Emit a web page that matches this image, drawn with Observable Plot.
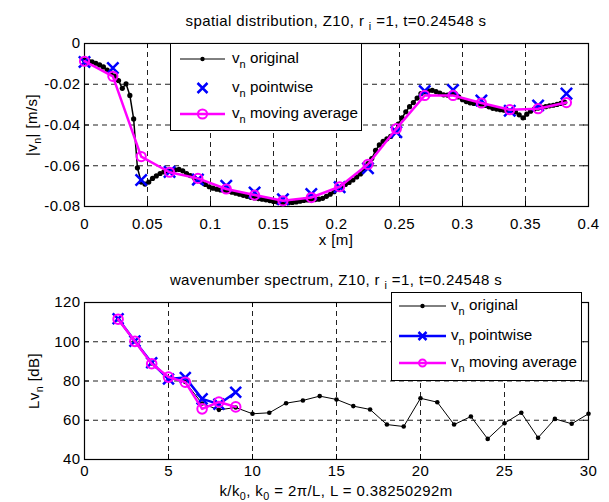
<!DOCTYPE html>
<html><head><meta charset="utf-8">
<script src="https://cdn.jsdelivr.net/npm/d3@7"></script>
<script src="https://cdn.jsdelivr.net/npm/@observablehq/plot@0.6"></script>
<style>
body{margin:0;background:#fff;}
#wrap{position:relative;width:609px;height:502px;font-family:"Liberation Sans",Arial,sans-serif;color:#000;overflow:hidden;background:#fff;}
.abs{position:absolute;white-space:nowrap;line-height:1;font-size:15px;letter-spacing:0.4px;}
.sub{font-size:0.72em;position:relative;top:0.4em;}
.plot{position:absolute;left:0;}
</style></head><body><div id="wrap"></div>
<script>
// ---------- top panel: spatial distribution ----------
const topXTicks = [0, 0.05, 0.1, 0.15, 0.2, 0.25, 0.3, 0.35, 0.4];
const topXTickLabels = ["0", "0.05", "0.1", "0.15", "0.2", "0.25", "0.3", "0.35", "0.4"];
const topYTicks = [-0.08, -0.06, -0.04, -0.02, 0];
const topYTickLabels = ["-0.08", "-0.06", "-0.04", "-0.02", "0"];

// original signal, sampled every 0.003 m
const origStep = 0.003;
const origV = [
 -0.0082,-0.0085,-0.0090,-0.0097,-0.0105,-0.0115,-0.0130,-0.0144,-0.0160,-0.0182,
 -0.0220,-0.0198,-0.0255,-0.0370,-0.0610,-0.0680,-0.0690,-0.0680,-0.0662,-0.0650,
 -0.0638,-0.0630,-0.0626,-0.0624,-0.0620,-0.0618,-0.0625,-0.0638,-0.0648,-0.0658,
 -0.0668,-0.0680,-0.0692,-0.0703,-0.0710,-0.0715,-0.0719,-0.0722,-0.0726,-0.0730,
 -0.0735,-0.0740,-0.0745,-0.0750,-0.0755,-0.0758,-0.0761,-0.0764,-0.0767,-0.0771,
 -0.0775,-0.0778,-0.0780,-0.0781,-0.0781,-0.0780,-0.0778,-0.0774,-0.0770,-0.0768,
 -0.0767,-0.0766,-0.0764,-0.0760,-0.0750,-0.0740,-0.0727,-0.0713,-0.0702,-0.0692,
 -0.0682,-0.0670,-0.0655,-0.0640,-0.0615,-0.0590,-0.0565,-0.0525,-0.0498,-0.0480,
 -0.0468,-0.0456,-0.0430,-0.0395,-0.0365,-0.0335,-0.0310,-0.0290,-0.0268,-0.0246,
 -0.0238,-0.0232,-0.0230,-0.0236,-0.0243,-0.0252,-0.0253,-0.0246,-0.0245,-0.0262,
 -0.0276,-0.0285,-0.0291,-0.0294,-0.0295,-0.0298,-0.0304,-0.0311,-0.0318,-0.0322,
 -0.0325,-0.0327,-0.0329,-0.0332,-0.0336,-0.0350,-0.0365,-0.0347,-0.0332,-0.0322,
 -0.0317,-0.0313,-0.0310,-0.0306,-0.0303,-0.0299,-0.0294,-0.0288
];
const pwX = [0, 0.0225, 0.045, 0.0675, 0.09, 0.1125, 0.135, 0.1575, 0.18, 0.2025, 0.225, 0.2475, 0.27, 0.2925, 0.315, 0.3375, 0.36, 0.3825];
const pwV = [-0.0091,-0.0120,-0.0670,-0.0630,-0.0668,-0.0698,-0.0731,-0.0764,-0.0739,-0.0705,-0.0612,-0.0435,-0.0233,-0.0228,-0.0280,-0.0330,-0.0304,-0.0246];
const maV = [-0.0087,-0.0161,-0.0555,-0.0632,-0.0662,-0.0714,-0.0744,-0.0772,-0.0756,-0.0703,-0.0593,-0.0418,-0.0255,-0.0255,-0.0292,-0.0325,-0.0320,-0.0290];

// ---------- bottom panel: wavenumber spectrum ----------
const botXTicks = [0, 5, 10, 15, 20, 25, 30];
const botXTickLabels = ["0", "5", "10", "15", "20", "25", "30"];
const botYTicks = [40, 60, 80, 100, 120];
const botYTickLabels = ["40", "60", "80", "100", "120"];
const specK = [2,3,4,5,6,7,8,9,10,11,12,13,14,15,16,17,18,19,20,21,22,23,24,25,26,27,28,29,30];
const specOrig = [111.5,100.3,89.0,81.5,79.5,68.5,65.3,66.5,63.3,63.8,68.7,70.1,72.3,70.6,67.2,65.5,57.8,56.8,71.2,69.2,57.8,61.9,50.5,58.5,63.8,51.1,60.7,58.2,63.3];
const specK2 = [2,3,4,5,6,7,8,9];
const specPw = [111.7,100.3,89.3,81.0,81.8,70.9,68.2,74.3];
const specMa = [111.5,100.2,88.8,82.0,79.4,65.8,69.3,66.8];

const BLUE = "#0000ff", MAG = "#ff00ff";
const FONT = '"Liberation Sans", Arial, sans-serif';

const origData = origV.map((v, i) => ({x: +(i * origStep).toFixed(4), y: v}));
const pwData = pwX.map((x, i) => ({x, y: pwV[i]}));
const maData = pwX.map((x, i) => ({x, y: maV[i]}));
const sOrig = specK.map((k, i) => ({x: k, y: specOrig[i]}));
const sPw = specK2.map((k, i) => ({x: k, y: specPw[i]}));
const sMa = specK2.map((k, i) => ({x: k, y: specMa[i]}));

function lab(ticks, labels) { return d => labels[ticks.indexOf(d)]; }

function frameMarks(xT, yT, innerW, innerH) {
  return [
    Plot.ruleX(xT.slice(1, -1), {x: d => d, stroke: "#222", strokeDasharray: "5,4"}),
    Plot.ruleY(yT.slice(1, -1), {y: d => d, stroke: "#222", strokeDasharray: "5,4"}),
    Plot.ruleX(xT, {x: d => d, insetTop: innerH - 5, stroke: "#000"}),
    Plot.ruleX(xT, {x: d => d, insetBottom: innerH - 5, stroke: "#000"}),
    Plot.ruleY(yT, {y: d => d, insetRight: innerW - 5, stroke: "#000"}),
    Plot.ruleY(yT, {y: d => d, insetLeft: innerW - 5, stroke: "#000"}),
    Plot.frame({stroke: "#000", strokeWidth: 1.2})
  ];
}

const STYLE = {fontFamily: FONT, fontSize: "15px", letterSpacing: "0.4px", background: "transparent", color: "#000", overflow: "visible"};

const topPlot = Plot.plot({
  width: 609, height: 250,
  marginLeft: 84, marginRight: 21, marginTop: 43, marginBottom: 44,
  style: STYLE,
  x: {domain: [0, 0.4], ticks: topXTicks, tickSize: 0, tickPadding: 12, tickFormat: lab(topXTicks, topXTickLabels), label: null},
  y: {domain: [-0.08, 0], ticks: topYTicks, tickSize: 0, tickPadding: 4, tickFormat: lab(topYTicks, topYTickLabels), label: null},
  marks: [
    ...frameMarks(topXTicks, topYTicks, 504, 163),
    Plot.line(origData, {x: "x", y: "y", stroke: "#000", strokeWidth: 1.5}),
    Plot.dot(origData, {x: "x", y: "y", r: 2.6, fill: "#000"}),
    Plot.dot(pwData, {x: "x", y: "y", symbol: "times", r: 5.2, stroke: BLUE, strokeWidth: 2.5}),
    Plot.line(maData, {x: "x", y: "y", stroke: MAG, strokeWidth: 2.5}),
    Plot.dot(maData, {x: "x", y: "y", r: 4.6, stroke: MAG, strokeWidth: 2, fill: "none"})
  ]
});

const botPlot = Plot.plot({
  width: 609, height: 252,
  marginLeft: 84, marginRight: 21, marginTop: 52, marginBottom: 43,
  style: STYLE,
  x: {domain: [0, 30], ticks: botXTicks, tickSize: 0, tickPadding: 6, tickFormat: lab(botXTicks, botXTickLabels), label: null},
  y: {domain: [40, 120], ticks: botYTicks, tickSize: 0, tickPadding: 4, tickFormat: lab(botYTicks, botYTickLabels), label: null},
  marks: [
    ...frameMarks(botXTicks, botYTicks, 504, 157),
    Plot.line(sOrig, {x: "x", y: "y", stroke: "#000", strokeWidth: 1}),
    Plot.dot(sOrig, {x: "x", y: "y", r: 2.3, fill: "#000"}),
    Plot.line(sPw, {x: "x", y: "y", stroke: BLUE, strokeWidth: 2.5}),
    Plot.dot(sPw, {x: "x", y: "y", symbol: "times", r: 5, stroke: BLUE, strokeWidth: 2.5}),
    Plot.line(sMa, {x: "x", y: "y", stroke: MAG, strokeWidth: 2.5}),
    Plot.dot(sMa, {x: "x", y: "y", r: 4.8, stroke: MAG, strokeWidth: 2, fill: "none"})
  ]
});

const wrap = document.getElementById("wrap");
topPlot.classList.add("plot"); topPlot.style.top = "0px";
botPlot.classList.add("plot"); botPlot.style.top = "250px";
wrap.appendChild(topPlot);
wrap.appendChild(botPlot);

function addText(html, x, y, extra) {
  const d = document.createElement("div");
  d.className = "abs";
  d.innerHTML = html;
  d.style.left = x + "px"; d.style.top = y + "px";
  d.style.transform = "translate(-50%,-50%)" + (extra || "");
  wrap.appendChild(d);
}
addText('spatial distribution, Z10, r <span class="sub">i</span> =1, t=0.24548 s', 336, 20);
addText('x [m]', 336, 239);
addText('|v<span class="sub">n</span>| [m/s]', 31, 125, " rotate(-90deg)");
addText('wavenumber spectrum, Z10, r <span class="sub">i</span> =1, t=0.24548 s', 336, 279);
addText('k/k<span class="sub">0</span>, k<span class="sub">0</span> = 2&pi;/L, L = 0.38250292m', 336, 490);
addText('Lv<span class="sub">n</span> [dB]', 33, 381, " rotate(-90deg)");

function legend(left, top, w, h, rows, sx1, sx2, tx, withLines) {
  const svg = d3.create("svg").attr("width", w).attr("height", h)
    .style("position", "absolute").style("left", left + "px").style("top", top + "px")
    .style("overflow", "visible")
    .style("font-family", FONT).style("font-size", "15.2px");
  svg.append("rect").attr("x", 0.5).attr("y", 0.5).attr("width", w - 1).attr("height", h - 1)
    .attr("fill", "#fff").attr("stroke", "#000").attr("stroke-width", 1);
  const cx = (sx1 + sx2) / 2;
  const entries = [
    {name: "original", color: "#000", lw: 1, mk: "dot"},
    {name: "pointwise", color: BLUE, lw: withLines ? 2.5 : 0, mk: "x"},
    {name: "moving average", color: MAG, lw: 2.5, mk: "o"}
  ];
  entries.forEach((e, i) => {
    const y = rows[i];
    if (e.lw) svg.append("line").attr("x1", sx1).attr("x2", sx2).attr("y1", y).attr("y2", y).attr("stroke", e.color).attr("stroke-width", e.lw);
    if (e.mk === "dot") svg.append("circle").attr("cx", cx).attr("cy", y).attr("r", 2.2).attr("fill", "#000");
    if (e.mk === "x") { const s = withLines ? 4 : 5; svg.append("path").attr("d", `M${cx-s},${y-s}L${cx+s},${y+s}M${cx-s},${y+s}L${cx+s},${y-s}`).attr("stroke", BLUE).attr("stroke-width", 2.5); }
    if (e.mk === "o") svg.append("circle").attr("cx", cx).attr("cy", y).attr("r", withLines ? 3.5 : 4.6).attr("fill", "none").attr("stroke", MAG).attr("stroke-width", 2);
    const t = svg.append("text").attr("x", tx).attr("y", y + 4);
    t.append("tspan").text("v");
    t.append("tspan").attr("dy", 5).attr("font-size", 11).text("n");
    t.append("tspan").attr("dy", -5).text(" " + e.name);
  });
  wrap.appendChild(svg.node());
}
legend(170, 43, 192, 88, [16, 45, 71], 10, 55, 62, false);
legend(391, 292, 191, 89, [14, 44, 71], 8, 55, 60, true);
</script></body></html>
